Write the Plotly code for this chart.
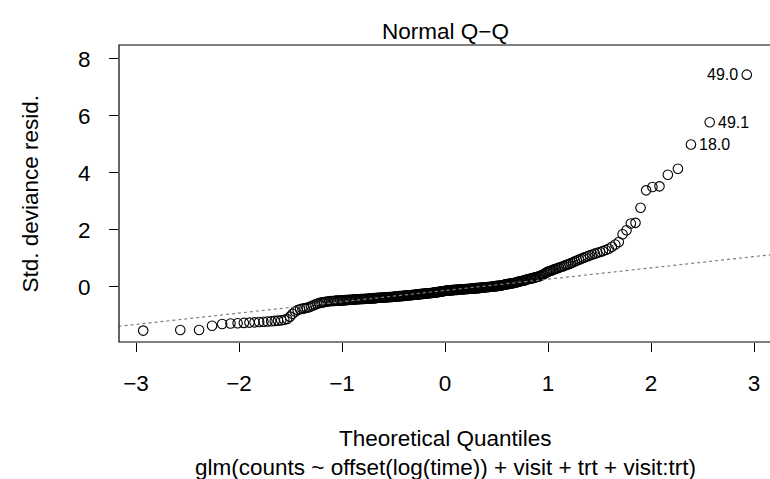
import numpy as np
import plotly.graph_objects as go
from statistics import NormalDist

# Sorted standardized deviance residuals, n = 295
resid_sorted = [
    -1.54, -1.52, -1.52, -1.37, -1.31, -1.29, -1.28, -1.27, -1.26, -1.25,
    -1.24, -1.23, -1.22, -1.21, -1.20, -1.19, -1.18, -1.16, -1.13,
    -1.05, -0.95, -0.87, -0.82, -0.79, -0.77, -0.76, -0.74, -0.72, -0.69,
    -0.66, -0.63, -0.60, -0.58, -0.56, -0.55, -0.54, -0.53, -0.52, -0.51,
    -0.50, -0.50, -0.50, -0.49, -0.49, -0.49, -0.48, -0.48, -0.48, -0.47,
    -0.47, -0.47, -0.46, -0.46, -0.46, -0.45, -0.45, -0.45, -0.44, -0.44,
    -0.44, -0.43, -0.43, -0.43, -0.43, -0.42, -0.42, -0.42, -0.42, -0.41,
    -0.41, -0.41, -0.41, -0.40, -0.40,
    -0.40, -0.39, -0.39, -0.39, -0.39, -0.38, -0.38, -0.38, -0.38, -0.37,
    -0.37, -0.37, -0.36, -0.36, -0.36, -0.36, -0.35, -0.35, -0.35, -0.34,
    -0.34, -0.34, -0.33, -0.33, -0.33, -0.33, -0.32, -0.32, -0.32, -0.31,
    -0.31, -0.31, -0.30, -0.30, -0.30, -0.29,
    -0.29, -0.29, -0.28, -0.28, -0.28, -0.27, -0.27, -0.27, -0.26, -0.26,
    -0.26, -0.25, -0.25, -0.25, -0.24, -0.24, -0.24, -0.23, -0.23, -0.23,
    -0.22, -0.22, -0.22, -0.21, -0.21, -0.20, -0.20, -0.20, -0.19, -0.19,
    -0.18, -0.18, -0.17, -0.17, -0.16, -0.16, -0.15, -0.14,
    -0.14, -0.14, -0.13, -0.13, -0.13, -0.13, -0.12, -0.12, -0.12, -0.12,
    -0.11, -0.11, -0.11, -0.11, -0.10, -0.10, -0.10, -0.10, -0.09, -0.09,
    -0.09, -0.09, -0.08, -0.08, -0.08, -0.08, -0.07, -0.07, -0.07, -0.07,
    -0.06, -0.06, -0.06, -0.05, -0.05, -0.05, -0.05, -0.04, -0.04, -0.04,
    -0.03, -0.03, -0.03, -0.02, -0.02, -0.02, -0.01, -0.01, -0.01, 0.00,
    0.00, 0.00,
    0.01, 0.01, 0.02, 0.02, 0.03, 0.03, 0.03, 0.04, 0.04, 0.05,
    0.06, 0.07, 0.08, 0.08, 0.09, 0.10, 0.10, 0.11, 0.11, 0.12,
    0.13, 0.14, 0.15, 0.16, 0.17, 0.18, 0.19, 0.20, 0.21, 0.22,
    0.23, 0.24, 0.26, 0.27, 0.28, 0.29, 0.30, 0.31, 0.32, 0.34,
    0.35, 0.36, 0.38, 0.40, 0.42, 0.45, 0.48, 0.51, 0.53, 0.55,
    0.57, 0.59, 0.61, 0.63, 0.65, 0.67, 0.69, 0.71, 0.73, 0.76,
    0.78, 0.80, 0.83, 0.86, 0.89, 0.92, 0.95, 0.98, 1.01, 1.04,
    1.07, 1.10, 1.13, 1.16, 1.19, 1.22, 1.25, 1.29,
    1.33, 1.40, 1.48, 1.57, 1.84, 1.98, 2.22, 2.24, 2.77, 3.38,
    3.50, 3.52, 3.93, 4.14, 4.99, 5.77, 7.44,
]

# Labelled extreme observations (rank in sorted order, label, side)
label_rank = [295, 294, 293]
label_text = ["49.0", "49.1", "18.0"]
label_side = ["left", "right", "right"]

x_ticks = [-3, -2, -1, 0, 1, 2, 3]
x_ticktext = ["\u22123", "\u22122", "\u22121", "0", "1", "2", "3"]
y_ticks = [0, 2, 4, 6, 8]
y_ticktext = ["0", "2", "4", "6", "8"]

title_text = "Normal Q\u2212Q"
x_title = "Theoretical Quantiles"
y_title = "Std. deviance resid."
sub_title = "glm(counts ~ offset(log(time)) + visit + trt + visit:trt)"

# ---- theoretical quantiles (ppoints, a = 0.5) ----
n = len(resid_sorted)
nd = NormalDist()
theo = [nd.inv_cdf((i + 0.5) / n) for i in range(n)]
y = np.array(resid_sorted)

# qqline through the quartiles
yq = np.quantile(y, [0.25, 0.75])
xq = [nd.inv_cdf(0.25), nd.inv_cdf(0.75)]
slope = (yq[1] - yq[0]) / (xq[1] - xq[0])
intercept = yq[0] - slope * xq[0]
xl = [-3.4, 3.4]
yl = [intercept + slope * v for v in xl]

FONT = "Liberation Sans, Arial, Helvetica, sans-serif"
FS = 22.5

fig = go.Figure()
fig.add_trace(go.Scatter(
    x=theo, y=resid_sorted, mode="markers",
    marker=dict(symbol="circle-open", size=9.5, color="black",
                line=dict(color="black", width=1.1)),
    hoverinfo="skip", showlegend=False))
fig.add_trace(go.Scatter(
    x=xl, y=yl, mode="lines",
    line=dict(color="#7f7f7f", width=1.2, dash="dot"),
    hoverinfo="skip", showlegend=False))

annotations = []
for r, t, s in zip(label_rank, label_text, label_side):
    annotations.append(dict(
        x=theo[r - 1], y=resid_sorted[r - 1], xref="x", yref="y",
        text=t, showarrow=False,
        xanchor="right" if s == "left" else "left",
        xshift=-7 if s == "left" else 6,
        yanchor="middle",
        font=dict(family=FONT, size=16, color="black")))

# plot area: x 119..770 px, y 45..342 px
annotations += [
    dict(x=0, y=(342 - 31) / 297, xref="x", yref="paper", text=title_text,
         showarrow=False, yanchor="middle", font=dict(family=FONT, size=FS, color="black")),
    dict(x=0, y=(342 - 438) / 297, xref="x", yref="paper", text=x_title,
         showarrow=False, yanchor="middle", font=dict(family=FONT, size=FS, color="black")),
    dict(x=0, y=(342 - 467) / 297, xref="x", yref="paper", text=sub_title,
         showarrow=False, yanchor="middle", font=dict(family=FONT, size=FS, color="black")),
    dict(x=(30 - 119) / 651, y=0.5, xref="paper", yref="paper", text=y_title,
         textangle=-90, showarrow=False, xanchor="center", yanchor="middle",
         font=dict(family=FONT, size=FS, color="black")),
]

fig.update_layout(
    width=770, height=479,
    margin=dict(l=119, r=0, t=45, b=137, pad=0),
    paper_bgcolor="white", plot_bgcolor="white",
    showlegend=False,
    annotations=annotations,
    shapes=[dict(type="rect", xref="paper", yref="paper", x0=0, x1=1.05, y0=0, y1=1,
                 line=dict(color="black", width=1.2), fillcolor="rgba(0,0,0,0)", layer="above")],
    font=dict(family=FONT, size=FS, color="black"),
)
fig.update_xaxes(range=[-3.165, -3.165 + 651 / 103.0], tickvals=x_ticks, ticktext=x_ticktext,
                 showgrid=False, zeroline=False, showline=False,
                 ticks="outside", ticklen=9, tickwidth=1.2, tickcolor="black",
                 ticklabelstandoff=12, tickfont=dict(family=FONT, size=FS, color="black"))
fig.update_yaxes(range=[-1.94, 8.48], tickvals=y_ticks, ticktext=y_ticktext,
                 showgrid=False, zeroline=False, showline=False,
                 ticks="outside", ticklen=9, tickwidth=1.2, tickcolor="black",
                 ticklabelstandoff=14, tickfont=dict(family=FONT, size=FS, color="black"))

fig.write_html("out.html", config={"displayModeBar": False},
               post_script="document.body.style.margin='0px';document.body.style.overflow='hidden';")
